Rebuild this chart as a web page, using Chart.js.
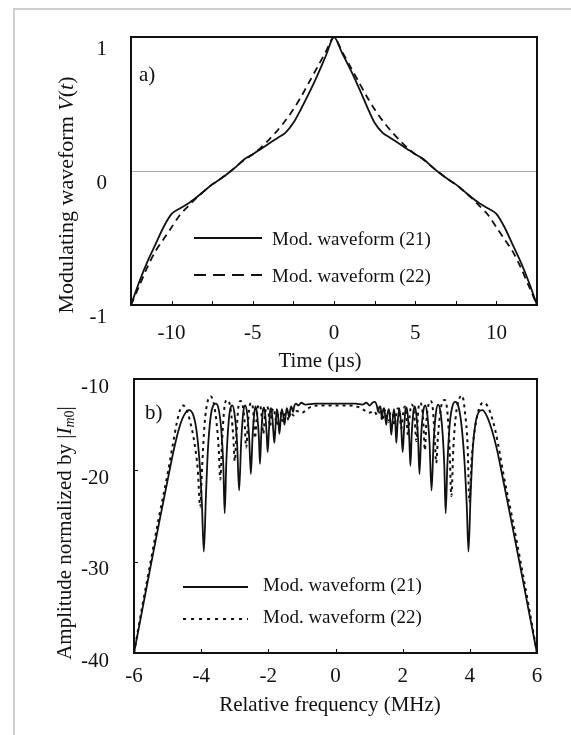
<!DOCTYPE html>
<html><head><meta charset="utf-8">
<script src="https://cdn.jsdelivr.net/npm/chart.js@4/dist/chart.umd.min.js"></script>
<style>
html,body{margin:0;padding:0;background:#fff;}
#wrap{position:relative;width:571px;height:735px;overflow:hidden;background:#fff;}
#frame{position:absolute;left:13px;top:8px;width:700px;height:900px;border-left:2px solid #cfcfcf;border-top:2px solid #cfcfcf;}
canvas{position:absolute;left:0;top:0;}
.ytitle{position:absolute;font-family:"Liberation Serif";font-size:21px;color:#111;white-space:nowrap;transform:translate(-50%,-50%) rotate(-90deg);}
.ytitle sub{font-size:14px;vertical-align:-3px;}
.xtitle{position:absolute;font-family:"Liberation Serif";font-size:21px;color:#111;white-space:nowrap;transform:translate(-50%,-50%);}
</style></head><body>
<div id="wrap">
<div id="frame"></div>
<canvas id="c1" width="571" height="735"></canvas>
<canvas id="c2" width="571" height="735"></canvas>
<div class="ytitle" style="left:66px;top:195px;font-size:22px">Modulating waveform <i>V</i>(<i>t</i>)</div>
<div class="ytitle" style="left:65px;top:533px">Amplitude normalized by |<i>I</i><sub><i>m</i>0</sub>|</div>
<div class="xtitle" style="left:320px;top:360px">Time (µs)</div>
<div class="xtitle" style="left:330px;top:704px">Relative frequency (MHz)</div>
</div>
<script>
// ---- Panel a) data ----
const timeUs = [-12.5,-12,-11.5,-11,-10.5,-10,-9.5,-9,-8.5,-8,-7.5,-7,-6.5,-6,-5.5,-5,-4.5,-4,-3.5,-3,-2.5,-2,-1.5,-1,-0.5,0,
  0.5,1,1.5,2,2.5,3,3.5,4,4.5,5,5.5,6,6.5,7,7.5,8,8.5,9,9.5,10,10.5,11,11.5,12,12.5];
const wave21 = [-1.00,-0.83,-0.68,-0.55,-0.42,-0.32,-0.28,-0.245,-0.20,-0.15,-0.10,-0.06,-0.015,0.035,0.09,0.125,0.165,0.205,0.245,0.285,0.36,0.47,0.59,0.72,0.86,1.00,
  0.88,0.76,0.63,0.49,0.36,0.285,0.245,0.205,0.165,0.125,0.09,0.035,-0.015,-0.06,-0.10,-0.15,-0.20,-0.245,-0.28,-0.32,-0.42,-0.55,-0.68,-0.83,-1.00];
const wave22 = [-1.00,-0.86,-0.72,-0.60,-0.51,-0.42,-0.33,-0.265,-0.205,-0.15,-0.10,-0.06,-0.015,0.035,0.085,0.125,0.175,0.235,0.30,0.375,0.46,0.56,0.67,0.78,0.89,1.00,
  0.89,0.78,0.67,0.56,0.46,0.375,0.30,0.235,0.175,0.125,0.085,0.035,-0.015,-0.06,-0.10,-0.15,-0.205,-0.265,-0.33,-0.42,-0.51,-0.60,-0.72,-0.86,-1.00];
const timeTicksLabelled = [-10,-5,0,5,10];

// ---- Panel b) data ----
const freq21 = [-6.00,-5.75,-5.50,-5.25,-5.00,-4.80,-4.65,-4.50,-4.36,-4.24,-4.14,-4.05,-3.98,-3.92,-3.86,-3.80,-3.72,-3.64,-3.56,-3.48,-3.40,-3.34,-3.30,-3.25,-3.18,-3.12,-3.07,-3.00,-2.93,-2.87,-2.81,-2.75,-2.69,-2.63,-2.57,-2.52,-2.47,-2.42,-2.38,-2.33,-2.28,-2.25,-2.21,-2.17,-2.13,-2.09,-2.05,-2.02,-1.98,-1.95,-1.92,-1.88,-1.85,-1.82,-1.78,-1.75,-1.71,-1.69,-1.67,-1.63,-1.60,-1.56,-1.52,-1.48,-1.45,-1.41,-1.38,-1.35,-1.32,-1.29,-1.26,-1.23,-1.18,-1.10,-1.02,-0.90,-0.60,-0.30,0.00,0.30,0.60,0.80,0.92,1.02,1.10,1.17,1.23,1.27,1.30,1.34,1.38,1.41,1.45,1.51,1.55,1.59,1.63,1.66,1.70,1.74,1.78,1.81,1.85,1.90,1.95,2.00,2.04,2.08,2.12,2.16,2.20,2.23,2.27,2.32,2.36,2.41,2.46,2.50,2.55,2.61,2.67,2.73,2.80,2.86,2.92,2.99,3.06,3.12,3.19,3.24,3.28,3.33,3.40,3.48,3.57,3.66,3.75,3.84,3.91,3.96,4.02,4.09,4.17,4.27,4.37,4.50,4.65,4.80,5.00,5.25,5.50,5.75,6.00];
const amp21 = [-40.0,-35.2,-30.4,-25.7,-21.1,-17.5,-15.3,-13.9,-13.4,-13.9,-15.6,-19.0,-23.5,-28.9,-23.0,-17.8,-14.2,-12.9,-12.7,-13.3,-15.6,-19.5,-24.7,-19.0,-14.6,-13.1,-12.9,-14.0,-17.0,-22.2,-17.0,-13.8,-12.9,-13.8,-16.5,-20.4,-16.3,-13.8,-13.0,-14.0,-16.5,-19.3,-16.0,-13.7,-13.1,-14.0,-16.0,-18.0,-15.5,-13.6,-13.2,-14.2,-15.8,-17.0,-14.8,-13.3,-14.0,-15.2,-16.0,-14.3,-13.3,-13.9,-15.0,-13.9,-13.2,-13.7,-14.2,-13.4,-13.0,-13.3,-13.6,-13.0,-12.7,-12.9,-12.6,-12.8,-12.7,-12.7,-12.7,-12.7,-12.7,-12.8,-12.6,-12.9,-12.6,-12.5,-12.9,-13.6,-13.1,-13.0,-14.3,-13.5,-13.2,-15.0,-13.8,-13.3,-14.5,-16.1,-14.6,-13.3,-14.6,-17.0,-14.8,-13.2,-14.8,-18.0,-15.6,-13.5,-13.1,-14.3,-16.8,-19.5,-16.0,-13.6,-13.0,-14.0,-16.6,-20.4,-16.2,-13.6,-12.9,-13.8,-17.0,-22.2,-17.0,-13.7,-12.8,-13.5,-16.0,-19.5,-24.7,-19.5,-15.0,-13.0,-12.5,-13.0,-15.0,-19.0,-24.0,-28.9,-23.0,-17.5,-14.8,-13.6,-13.4,-14.0,-15.5,-17.6,-21.2,-25.8,-30.5,-35.3,-40.0];
const freq22 = [-6.00,-5.75,-5.50,-5.25,-5.00,-4.85,-4.72,-4.62,-4.54,-4.44,-4.32,-4.20,-4.10,-4.03,-3.97,-3.90,-3.81,-3.72,-3.63,-3.55,-3.48,-3.43,-3.38,-3.31,-3.24,-3.17,-3.10,-3.04,-3.00,-2.95,-2.89,-2.83,-2.77,-2.71,-2.66,-2.61,-2.56,-2.50,-2.45,-2.40,-2.35,-2.30,-2.25,-2.20,-2.15,-2.10,-2.05,-2.00,-1.95,-1.90,-1.85,-1.80,-1.75,-1.70,-1.64,-1.58,-1.52,-1.46,-1.40,-1.33,-1.25,-1.15,-1.00,-0.85,-0.70,-0.40,0.00,0.40,0.70,0.85,1.00,1.15,1.25,1.33,1.40,1.46,1.52,1.58,1.64,1.70,1.76,1.81,1.86,1.91,1.96,2.01,2.06,2.11,2.16,2.21,2.26,2.31,2.36,2.41,2.46,2.51,2.57,2.62,2.66,2.71,2.77,2.83,2.89,2.95,3.00,3.05,3.11,3.18,3.25,3.32,3.39,3.45,3.51,3.59,3.68,3.77,3.86,3.93,3.99,4.05,4.15,4.27,4.40,4.50,4.62,4.75,4.90,5.00,5.25,5.50,5.75,6.00];
const amp22 = [-40.0,-34.8,-29.9,-25.0,-20.4,-17.3,-14.7,-13.3,-12.9,-13.3,-14.8,-17.0,-20.0,-24.0,-19.5,-15.0,-12.5,-11.9,-12.6,-14.5,-17.5,-21.0,-17.0,-13.2,-12.3,-12.5,-14.0,-16.5,-19.0,-16.0,-13.0,-12.4,-12.8,-14.5,-17.5,-15.0,-13.0,-12.6,-13.5,-16.5,-14.5,-12.9,-12.8,-14.0,-16.0,-14.0,-13.0,-13.4,-15.2,-13.8,-13.2,-14.0,-15.0,-13.8,-13.6,-14.6,-13.9,-13.4,-14.5,-13.6,-14.0,-13.5,-13.7,-13.3,-13.0,-12.9,-12.9,-12.9,-13.1,-13.4,-13.7,-13.5,-14.0,-13.6,-14.6,-13.4,-13.9,-14.7,-13.6,-13.8,-15.1,-13.8,-13.2,-13.9,-15.4,-13.9,-13.0,-14.0,-16.2,-14.0,-12.8,-13.0,-14.6,-16.8,-13.6,-12.6,-13.0,-15.0,-17.8,-14.5,-12.8,-12.4,-13.0,-16.0,-19.2,-16.3,-14.0,-12.5,-12.3,-13.2,-17.0,-22.8,-17.5,-13.8,-12.2,-11.8,-13.8,-17.0,-23.5,-19.0,-15.5,-13.3,-12.6,-12.8,-13.8,-15.5,-18.3,-20.4,-25.0,-29.8,-34.8,-40.0];

const FONT = 'Liberation Serif';
const INK = '#111';
Chart.defaults.font.family = FONT;
Chart.defaults.color = INK;

const frameTicks = {
  id: 'frameTicks',
  afterDraw(chart, args, o) {
    const {ctx, chartArea: a, scales} = chart;
    ctx.save();
    ctx.strokeStyle = INK;
    ctx.lineWidth = 1;
    const xs = scales.x;
    xs.ticks.forEach(t => {
      const px = Math.round(xs.getPixelForValue(t.value)) + 0.5;
      ctx.beginPath(); ctx.moveTo(px, a.bottom); ctx.lineTo(px, a.bottom - o.tickLen); ctx.stroke();
    });
    if (o.yTicks) {
      const ys = scales.y;
      ys.ticks.forEach(t => {
        const py = Math.round(ys.getPixelForValue(t.value)) + 0.5;
        ctx.beginPath(); ctx.moveTo(a.left, py); ctx.lineTo(a.left + o.tickLen, py); ctx.stroke();
      });
    }
    ctx.lineWidth = 2;
    ctx.strokeRect(a.left, a.top, a.right - a.left, a.bottom - a.top);
    ctx.fillStyle = INK;
    ctx.textBaseline = 'middle';
    ctx.textAlign = 'left';
    ctx.font = '21px "' + FONT + '"';
    ctx.fillText(o.panel, a.left + o.panelDx, a.top + o.panelDy);
    ctx.font = '19px "' + FONT + '"';
    chart.data.datasets.forEach((ds, i) => {
      const y = o.legendY[i];
      ctx.setLineDash(o.legendDash[i]);
      ctx.lineWidth = ds.borderWidth;
      ctx.beginPath(); ctx.moveTo(o.legendX0, y); ctx.lineTo(o.legendX1, y); ctx.stroke();
      ctx.setLineDash([]);
      ctx.fillText(ds.label, o.legendTextX, y + o.textDy);
    });
    ctx.restore();
  }
};

const tickFont = {family: FONT, size: 21};

new Chart(document.getElementById('c1'), {
  type: 'line',
  data: {datasets: [
    {label: 'Mod. waveform (21)', data: timeUs.map((t, i) => ({x: t, y: wave21[i]})), borderColor: INK, borderWidth: 1.8, pointRadius: 0, tension: 0.3, fill: false},
    {label: 'Mod. waveform (22)', data: timeUs.map((t, i) => ({x: t, y: wave22[i]})), borderColor: INK, borderWidth: 1.8, borderDash: [7, 5], pointRadius: 0, tension: 0.3, fill: false}
  ]},
  options: {
    responsive: false, animation: false, devicePixelRatio: 1,
    layout: {padding: {top: 37, left: 0, right: 34, bottom: 360}},
    plugins: {legend: {display: false}, tooltip: {enabled: false},
      frameTicks: {tickLen: 4, yTicks: false, panel: 'a)', panelDx: 8, panelDy: 38,
        legendY: [238, 275], legendDash: [[], [12, 7]], legendX0: 194, legendX1: 262, legendTextX: 272, textDy: 2}},
    scales: {
      x: {type: 'linear', min: -12.5, max: 12.5,
        ticks: {stepSize: 2.5, autoSkip: false, maxRotation: 0, padding: 8, font: tickFont, color: INK,
          callback: v => timeTicksLabelled.includes(v) ? String(v) : ''},
        grid: {display: false}, border: {display: false},
        afterFit: s => { s.height = 70; }},
      y: {type: 'linear', min: -1, max: 1,
        ticks: {stepSize: 1, padding: 24, labelOffset: 12, font: tickFont, color: INK},
        grid: {drawTicks: false, lineWidth: 1, color: c => (c.tick && c.tick.value === 0) ? '#a8a8a8' : 'rgba(0,0,0,0)'},
        border: {display: false},
        afterFit: s => { s.width = 131; }}
    }
  },
  plugins: [frameTicks]
});

new Chart(document.getElementById('c2'), {
  type: 'line',
  data: {datasets: [
    {label: 'Mod. waveform (21)', data: freq21.map((f, i) => ({x: f, y: amp21[i]})), borderColor: INK, borderWidth: 1.8, pointRadius: 0, cubicInterpolationMode: 'monotone', fill: false},
    {label: 'Mod. waveform (22)', data: freq22.map((f, i) => ({x: f, y: amp22[i]})), borderColor: INK, borderWidth: 2, borderDash: [3, 4], pointRadius: 0, cubicInterpolationMode: 'monotone', fill: false}
  ]},
  options: {
    responsive: false, animation: false, devicePixelRatio: 1,
    layout: {padding: {top: 379, left: 0, right: 34, bottom: 15}},
    plugins: {legend: {display: false}, tooltip: {enabled: false},
      frameTicks: {tickLen: 4, yTicks: true, panel: 'b)', panelDx: 11, panelDy: 34,
        legendY: [587, 619], legendDash: [[], [3, 5]], legendX0: 183, legendX1: 248, legendTextX: 263, textDy: -1}},
    scales: {
      x: {type: 'linear', min: -6, max: 6,
        ticks: {stepSize: 2, autoSkip: false, maxRotation: 0, padding: 3, font: tickFont, color: INK},
        grid: {display: false}, border: {display: false},
        afterFit: s => { s.height = 67; }},
      y: {type: 'linear', min: -40, max: -10,
        ticks: {stepSize: 10, padding: 17, labelOffset: 8, font: tickFont, color: INK},
        grid: {display: false}, border: {display: false},
        afterFit: s => { s.width = 134; }}
    }
  },
  plugins: [frameTicks]
});
</script>
</body></html>
